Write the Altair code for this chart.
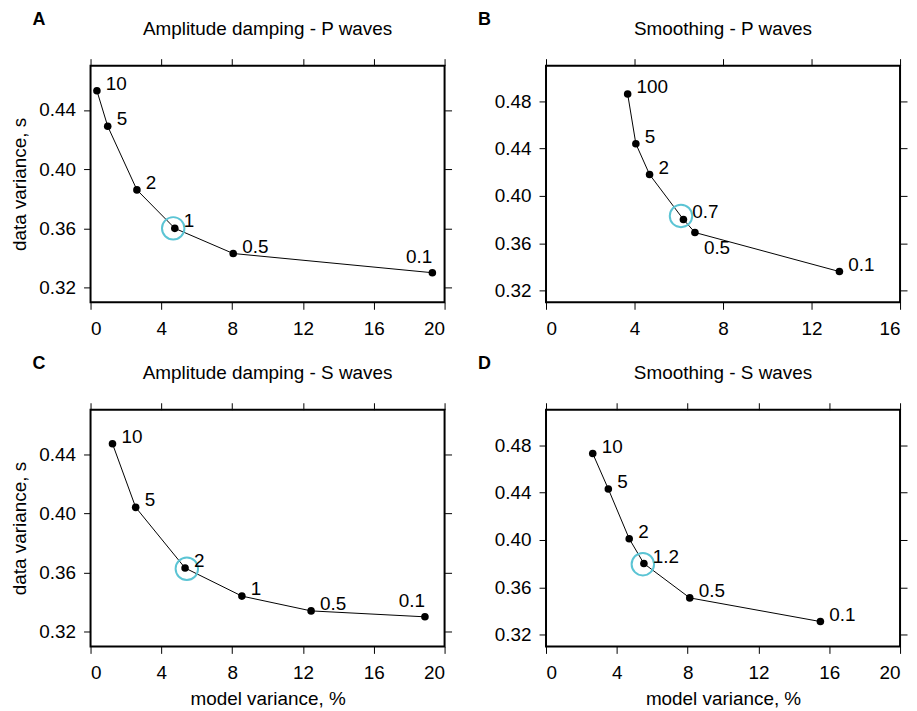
import altair as alt
import pandas as pd

# ---- data ----
A_model = [0.36, 0.97, 2.62, 4.76, 8.06, 19.31]
A_data = [0.453, 0.429, 0.386, 0.360, 0.343, 0.330]
A_labels = ["10", "5", "2", "1", "0.5", "0.1"]
A_place = ["right", "right", "right", "right", "right", "above-left"]
A_best = [4.67, 0.360]

B_model = [3.69, 4.06, 4.68, 6.21, 6.73, 13.26]
B_data = [0.486, 0.444, 0.418, 0.380, 0.369, 0.336]
B_labels = ["100", "5", "2", "0.7", "0.5", "0.1"]
B_place = ["right", "right", "right", "right", "below-right", "right"]
B_best = [6.10, 0.383]

C_model = [1.24, 2.55, 5.34, 8.55, 12.46, 18.89]
C_data = [0.447, 0.404, 0.363, 0.344, 0.334, 0.330]
C_labels = ["10", "5", "2", "1", "0.5", "0.1"]
C_place = ["right", "right", "right", "right", "right", "above-left"]
C_best = [5.44, 0.3625]

D_model = [2.64, 3.52, 4.70, 5.53, 8.12, 15.50]
D_data = [0.473, 0.443, 0.401, 0.380, 0.351, 0.331]
D_labels = ["10", "5", "2", "1.2", "0.5", "0.1"]
D_place = ["right", "right", "right", "right", "right", "right"]
D_best = [5.47, 0.3795]

titles = ["Amplitude damping - P waves", "Smoothing - P waves",
          "Amplitude damping - S waves", "Smoothing - S waves"]
letters = ["A", "B", "C", "D"]
x_ticks_20 = [0, 4, 8, 12, 16, 20]
x_ticks_16 = [0, 4, 8, 12, 16]
y_ticks_a = [0.32, 0.36, 0.40, 0.44]
y_ticks_b = [0.32, 0.36, 0.40, 0.44, 0.48]

FONT = "Liberation Sans"
W, H = 356, 238


def panel(mx, dy_, labs, place, best, title, letter, letter_dx, xdom, xticks,
          ydom, yticks, xtitle, ytitle):
    df = pd.DataFrame({"model": mx, "data": dy_, "label": labs, "place": place,
                       "order": list(range(len(mx)))})
    bdf = pd.DataFrame({"model": [best[0]], "data": [best[1]]})
    hdf = pd.DataFrame({"letter": [letter], "title": [title]})

    xs = alt.Scale(domain=xdom, nice=False, zero=False)
    ys = alt.Scale(domain=ydom, nice=False, zero=False)

    ax_common = dict(grid=False, domain=False, ticks=True, tickColor="black",
                     tickWidth=1, tickSize=7, labelFont=FONT, labelFontSize=19,
                     labelColor="black", titleFont=FONT, titleFontSize=19,
                     titleFontWeight="normal", titleColor="black")

    x_bottom = alt.Axis(orient="bottom", values=xticks, format="d", labelPadding=10,
                        title=xtitle if xtitle else None, titlePadding=7, **ax_common)
    y_left = alt.Axis(orient="left", values=yticks, format=".2f", labelPadding=8,
                      title=ytitle if ytitle else None, titlePadding=9, **ax_common)
    x_top = alt.Axis(orient="top", values=xticks, labels=False, title=None, **ax_common)
    y_right = alt.Axis(orient="right", values=yticks, labels=False, title=None, **ax_common)

    line = alt.Chart(df).mark_line(color="black", strokeWidth=1).encode(
        x=alt.X("model:Q", scale=xs, axis=x_bottom),
        y=alt.Y("data:Q", scale=ys, axis=y_left),
        order="order:Q",
    )
    ring = alt.Chart(bdf).mark_point(shape="circle", filled=False, size=510,
                                     strokeWidth=2, color="#5bc4d4", opacity=1).encode(
        x=alt.X("model:Q", scale=xs, axis=x_top),
        y=alt.Y("data:Q", scale=ys, axis=y_right),
    )
    dots = alt.Chart(df).mark_circle(size=58, color="black", opacity=1).encode(
        x=alt.X("model:Q", scale=xs, axis=None),
        y=alt.Y("data:Q", scale=ys, axis=None),
    )
    base_txt = dict(font=FONT, fontSize=19, color="black", baseline="middle")
    t_right = alt.Chart(df).transform_filter(alt.datum.place == "right").mark_text(
        align="left", dx=9, dy=-7, **base_txt).encode(
        x=alt.X("model:Q", scale=xs, axis=None),
        y=alt.Y("data:Q", scale=ys, axis=None), text="label:N")
    t_al = alt.Chart(df).transform_filter(alt.datum.place == "above-left").mark_text(
        align="right", dx=0, dy=-16, **base_txt).encode(
        x=alt.X("model:Q", scale=xs, axis=None),
        y=alt.Y("data:Q", scale=ys, axis=None), text="label:N")
    t_br = alt.Chart(df).transform_filter(alt.datum.place == "below-right").mark_text(
        align="left", dx=9, dy=16, **base_txt).encode(
        x=alt.X("model:Q", scale=xs, axis=None),
        y=alt.Y("data:Q", scale=ys, axis=None), text="label:N")
    let = alt.Chart(hdf).mark_text(font=FONT, fontSize=18, fontWeight="bold",
                                   color="black", align="center",
                                   baseline="middle").encode(
        text="letter:N", x=alt.value(letter_dx), y=alt.value(-46))
    ttl = alt.Chart(hdf).mark_text(font=FONT, fontSize=19, color="black",
                                   align="center", baseline="middle").encode(
        text="title:N", x=alt.value(W / 2), y=alt.value(-37))

    return alt.layer(line, ring, dots, t_right, t_al, t_br, let, ttl).resolve_axis(
        x="independent", y="independent").properties(width=W, height=H)


pA = panel(A_model, A_data, A_labels, A_place, A_best, titles[0], letters[0], -52,
           [0, 20], x_ticks_20, [0.31, 0.47], y_ticks_a, None, "data variance, s")
pB = panel(B_model, B_data, B_labels, B_place, B_best, titles[1], letters[1], -62,
           [0, 16], x_ticks_16, [0.31, 0.51], y_ticks_b, None, None)
pC = panel(C_model, C_data, C_labels, C_place, C_best, titles[2], letters[2], -52,
           [0, 20], x_ticks_20, [0.31, 0.47], y_ticks_a, "model variance, %",
           "data variance, s")
pD = panel(D_model, D_data, D_labels, D_place, D_best, titles[3], letters[3], -62,
           [0, 20], x_ticks_20, [0.31, 0.51], y_ticks_b, "model variance, %", None)

chart = alt.concat(pA, pB, pC, pD, columns=2, spacing={"row": 108, "column": 102},
                   bounds="flush").properties(
    padding={"left": 2, "top": 0, "right": 0, "bottom": 0},
    background="white").configure_view(stroke="black", strokeWidth=2)

chart.save("out.html", embed_options={"renderer": "svg", "actions": False})
